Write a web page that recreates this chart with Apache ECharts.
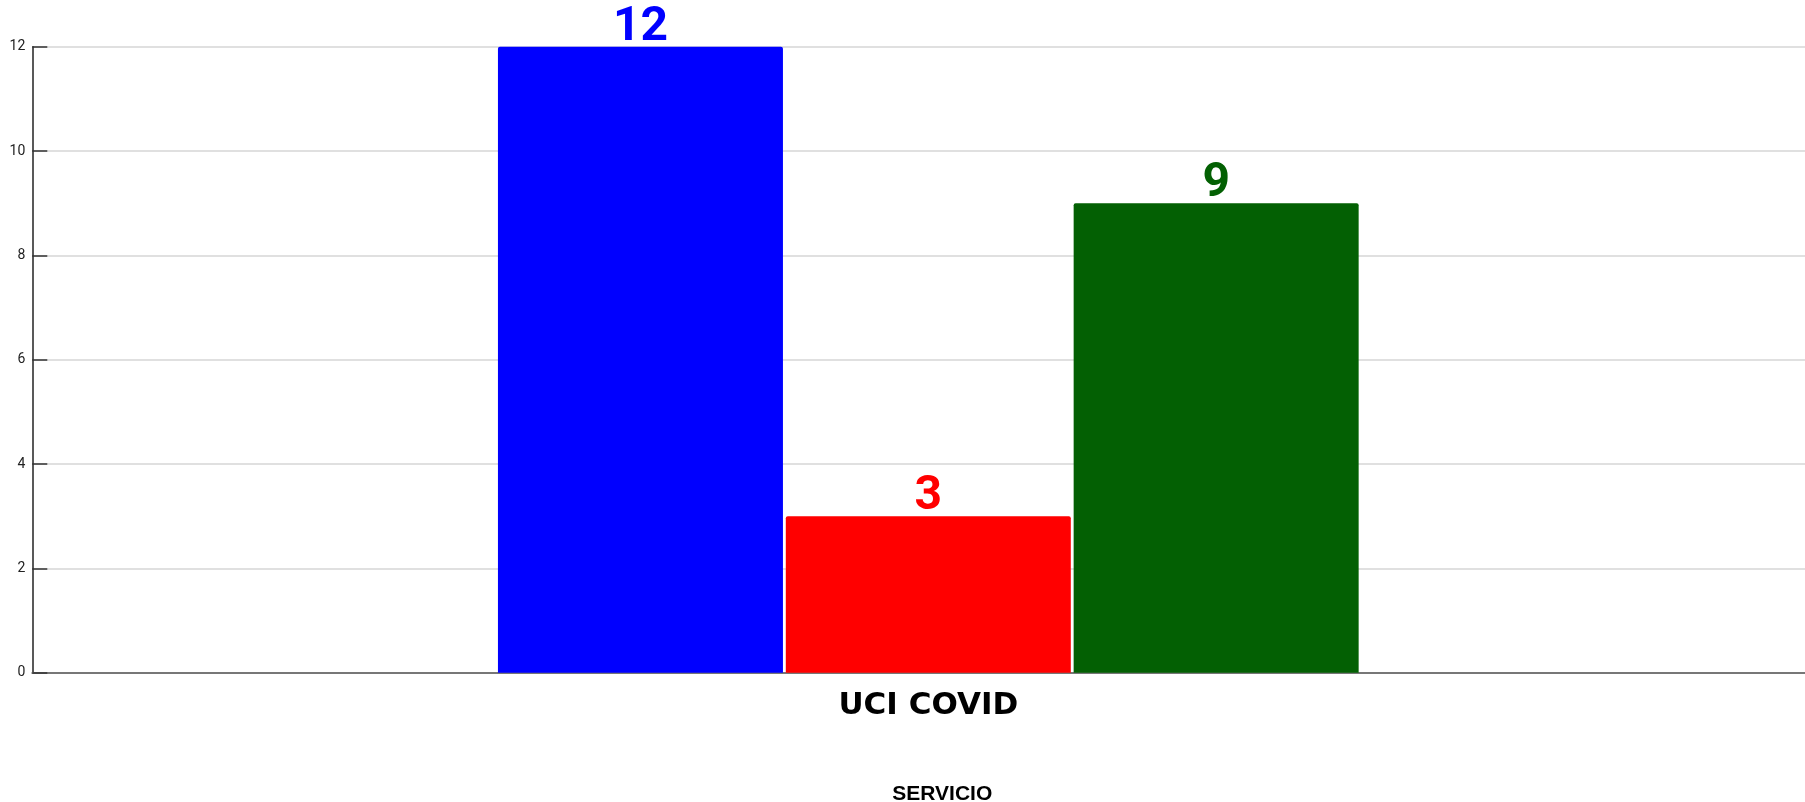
<!DOCTYPE html>
<html>
<head>
<meta charset="utf-8">
<script src="https://cdn.jsdelivr.net/npm/echarts@6/dist/echarts.min.js"></script>
<style>
html,body{margin:0;padding:0;background:#fff;}
#c{width:1805px;height:802px;}
</style>
</head>
<body>
<div id="c"></div>
<script>
const categories = ['UCI COVID'];
const seriesNames = ['Serie 1', 'Serie 2', 'Serie 3'];
const seriesValues = [[12], [3], [9]];
const seriesColors = ['#0000ff', '#ff0000', '#036003'];
const yTicks = [0, 2, 4, 6, 8, 10, 12];

const chart = echarts.init(document.getElementById('c'), null, {renderer: 'canvas'});
const series = seriesNames.map((n, i) => ({
  name: n,
  type: 'bar',
  data: seriesValues[i],
  barWidth: 285,
  barGap: '1%',
  itemStyle: {color: seriesColors[i], borderRadius: [2, 2, 0, 0]},
  label: {
    show: true,
    position: 'top',
    distance: -5,
    color: seriesColors[i],
    fontFamily: 'Roboto',
    fontWeight: 'bold',
    fontSize: 48
  }
}));

chart.setOption({
  animation: false,
  backgroundColor: '#ffffff',
  grid: {left: 32.3, right: -19.3, top: 46.7, bottom: 129.3, containLabel: false, outerBoundsMode: 'none'},
  xAxis: {
    type: 'category',
    data: categories,
    name: 'SERVICIO',
    nameLocation: 'middle',
    nameGap: 111,
    nameTextStyle: {fontFamily: 'Liberation Sans', fontWeight: 'bold', fontSize: 21, color: '#000', padding: [0, 0, 0, 28]},
    axisLine: {lineStyle: {color: '#777', width: 2}},
    axisTick: {show: false},
    axisLabel: {margin: 18, fontFamily: 'DejaVu Sans', fontWeight: 900, fontSize: 31, color: '#000'}
  },
  yAxis: {
    type: 'value',
    min: yTicks[0],
    max: yTicks[yTicks.length - 1],
    interval: 2,
    axisLine: {show: true, lineStyle: {color: '#222', width: 1.5}},
    axisTick: {show: true, inside: true, length: 15, lineStyle: {color: '#333', width: 1.5}},
    axisLabel: {fontFamily: 'Roboto', fontSize: 14, color: '#222', margin: 7},
    splitLine: {lineStyle: {color: '#d6d6d6', width: 1.5}}
  },
  series: series
});
</script>
</body>
</html>
